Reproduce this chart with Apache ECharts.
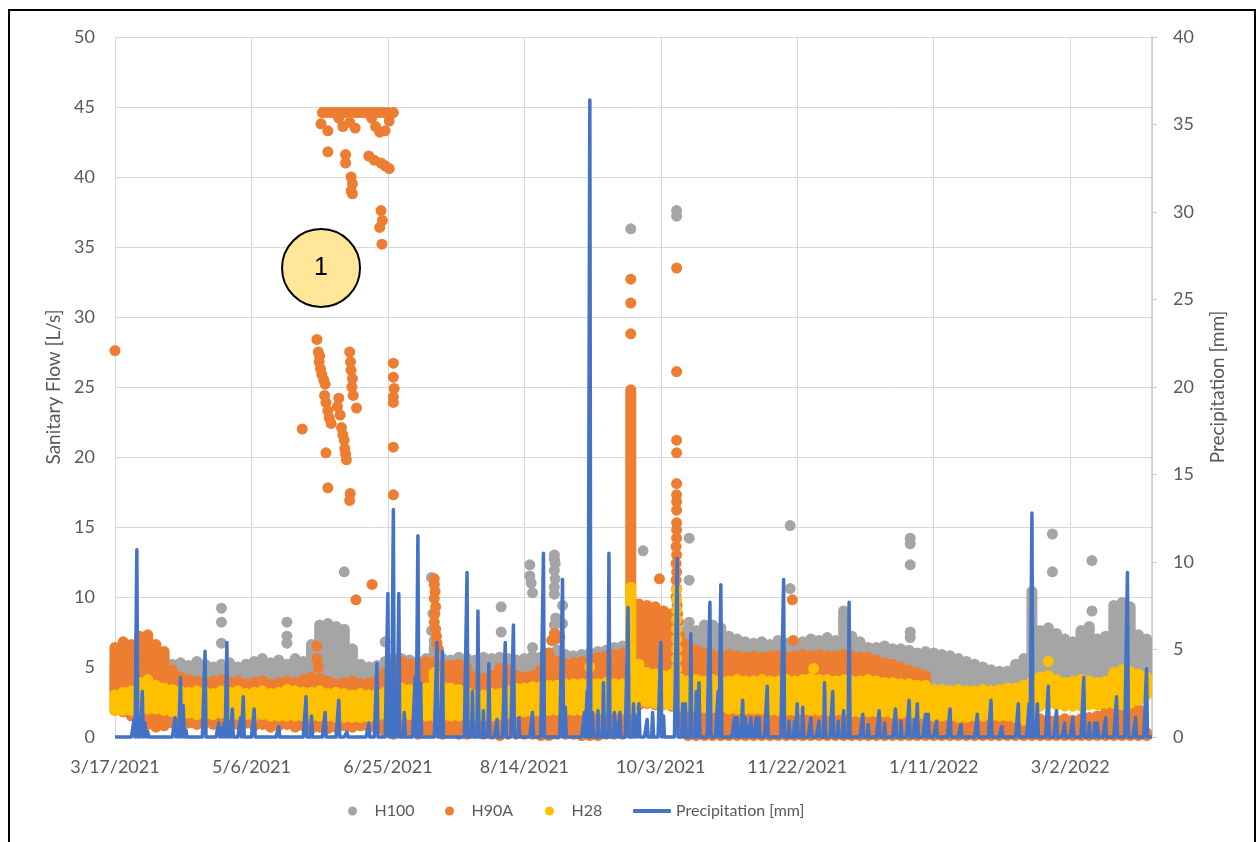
<!DOCTYPE html>
<html>
<head>
<meta charset="utf-8">
<title>Sanitary Flow and Precipitation</title>
<script src="https://cdn.jsdelivr.net/npm/echarts@6/dist/echarts.min.js"></script>
<style>
  html, body { margin: 0; padding: 0; background: #ffffff; }
  #chart { width: 1258px; height: 842px; }
</style>
</head>
<body>
<div id="chart"></div>
<script>
// ---- Data -----------------------------------------------------------------
// x values are days counted from 3/17/2021.
const xTickLabels = ['3/17/2021', '5/6/2021', '6/25/2021', '8/14/2021',
                     '10/3/2021', '11/22/2021', '1/11/2022', '3/2/2022'];
const TICK_DAYS = 50;

// Dense hourly readings summarised every 3 days as the [low, high] spread of the dots.
const BAND_STEP = 3;

const h100Hi = [
  5.0,5.2,5.4,5.5,5.5,5.4,5.3,5.2,5.3,5.1,
  5.4,5.2,5.0,5.2,5.3,5.0,5.2,5.4,5.6,5.3,
  5.5,5.2,5.6,5.4,6.6,8.0,8.1,7.9,7.7,6.3,
  5.2,5.0,5.1,5.4,5.6,5.6,5.5,5.4,5.6,6.5,
  5.6,5.5,5.7,5.6,5.5,5.7,5.6,5.7,5.6,5.5,
  5.6,5.8,5.7,6.0,6.2,5.9,5.8,5.9,6.0,6.1,
  6.2,6.4,6.5,6.5,6.6,6.6,6.5,6.6,6.8,7.5,
  7.8,7.6,8.0,8.0,7.8,7.2,7.0,6.8,6.7,6.8,
  6.6,6.9,6.7,6.6,6.8,7.0,6.9,7.1,6.9,9.0,
  7.2,6.8,6.4,6.4,6.5,6.3,6.3,6.2,6.0,6.1,
  6.0,5.9,5.8,5.6,5.4,5.2,5.0,4.8,4.7,4.7,
  5.2,5.6,10.4,7.6,7.8,7.4,7.0,6.8,7.6,7.9,
  7.0,7.2,9.4,9.6,9.3,7.3,7.0
];
const h100Lo = [
  3.4,3.4,3.5,3.5,3.5,3.5,3.5,3.5,3.5,3.5,
  3.5,3.5,3.5,3.5,3.5,3.5,3.5,3.5,3.5,3.5,
  3.5,3.5,3.5,3.5,3.8,3.9,3.9,3.9,3.9,3.8,
  3.5,3.5,3.5,3.5,3.5,3.5,3.5,3.5,3.5,3.5,
  3.5,3.5,3.5,3.5,3.5,3.5,3.5,3.5,3.5,3.5,
  3.5,3.5,3.5,3.5,3.5,3.5,3.5,3.5,3.5,3.5,
  3.6,3.6,3.6,3.6,3.6,3.6,3.6,3.6,3.6,3.6,
  3.6,3.6,3.6,3.6,3.6,3.6,3.6,3.6,3.6,3.6,
  3.6,3.6,3.6,3.6,3.6,3.6,3.6,3.6,3.6,3.6,
  3.6,3.6,3.6,3.6,3.6,3.6,3.6,3.6,3.6,3.6,
  3.7,3.7,3.7,3.7,3.7,3.7,3.7,3.7,3.7,3.7,
  3.8,3.8,3.8,4.0,4.1,4.1,4.0,4.0,4.1,4.1,
  4.0,4.1,4.3,4.4,4.4,4.3,4.2
];
const h90aHi = [
  6.4,6.8,6.6,7.2,7.3,6.6,6.1,4.8,4.3,4.1,
  4.0,3.9,4.0,4.1,3.9,4.0,3.8,3.9,4.0,3.8,
  3.9,4.0,3.9,4.1,4.3,4.2,4.0,3.8,3.9,4.0,
  3.8,3.9,4.0,4.6,5.3,5.4,5.2,5.3,5.4,5.4,
  5.2,5.1,5.2,4.9,4.3,4.2,4.4,4.9,4.8,4.4,
  4.3,4.4,4.8,6.0,5.4,5.2,5.3,5.4,5.6,5.7,
  5.8,5.9,6.0,24.8,9.5,9.4,9.3,9.0,8.8,7.2,
  6.6,6.2,6.0,5.9,5.8,5.9,5.8,5.7,5.8,5.7,
  5.8,5.8,5.7,5.8,5.9,5.8,5.9,5.8,5.8,5.9,
  5.8,5.7,5.7,5.5,5.3,5.2,5.0,4.8,4.6,4.4,
  3.0,1.4,1.2,1.1,1.1,1.0,1.0,1.0,1.0,1.1,
  1.1,1.2,1.2,1.3,1.2,1.2,1.3,1.2,1.3,1.4,
  1.5,1.8,2.4,2.6,2.5,2.0,0.3
];
const h90aLo = [
  1.9,1.8,1.5,1.2,0.9,0.7,0.8,1.0,1.1,1.0,
  0.9,1.0,0.9,1.0,0.8,0.9,1.0,0.8,0.9,0.7,
  0.8,0.9,0.7,0.8,0.6,0.7,0.6,0.7,0.8,0.7,
  0.8,0.7,0.6,0.4,0.2,0.3,0.3,0.2,0.3,0.3,
  0.2,0.3,0.2,0.2,0.3,0.2,0.2,0.1,0.2,0.2,
  0.2,0.2,0.1,0.1,0.2,0.2,0.2,0.1,0.1,0.1,
  0.2,0.2,0.2,0.3,2.3,2.4,2.3,2.3,2.2,0.8,
  0.1,0.1,0.1,0.1,0.1,0.1,0.1,0.1,0.1,0.1,
  0.1,0.1,0.1,0.1,0.1,0.1,0.1,0.1,0.1,0.1,
  0.1,0.1,0.1,0.1,0.1,0.1,0.1,0.1,0.1,0.1,
  0.1,0.1,0.1,0.1,0.1,0.1,0.1,0.1,0.1,0.1,
  0.1,0.1,0.1,0.1,0.1,0.1,0.1,0.1,0.1,0.1,
  0.1,0.1,0.1,0.1,0.1,0.1,0.1
];
const h28Hi = [
  3.0,3.2,3.3,3.9,4.1,3.7,3.5,3.4,3.3,3.2,
  3.3,3.2,3.1,3.3,3.2,3.3,3.1,3.2,3.3,3.1,
  3.2,3.4,3.3,3.2,3.2,3.3,3.1,3.2,3.1,3.0,
  3.1,3.0,3.1,3.2,3.4,3.5,3.4,3.3,3.5,4.6,
  3.6,3.5,3.4,3.2,3.0,3.0,3.1,3.1,3.3,3.5,
  3.5,3.6,3.6,3.7,3.7,3.8,3.8,3.8,3.9,3.8,
  3.9,3.8,3.8,10.7,5.2,4.6,4.5,4.4,4.5,4.2,
  4.0,4.1,4.0,4.1,4.0,4.0,4.1,4.0,4.0,4.1,
  4.0,4.0,4.1,4.0,4.1,4.2,4.1,4.1,4.0,4.1,
  4.0,4.0,4.1,4.0,3.9,3.9,3.8,3.8,3.7,3.7,
  3.4,3.4,3.3,3.4,3.3,3.3,3.4,3.3,3.4,3.5,
  3.5,3.7,4.0,4.3,4.4,4.1,3.9,4.0,4.1,4.0,
  3.9,4.0,4.6,4.8,4.7,4.5,4.3
];
const h28Lo = [
  1.9,1.9,1.9,2.0,2.0,2.0,1.9,1.8,1.7,1.7,
  1.6,1.6,1.6,1.7,1.6,1.6,1.6,1.5,1.6,1.5,
  1.5,1.5,1.5,1.5,1.5,1.5,1.5,1.4,1.4,1.4,
  1.4,1.4,1.5,1.6,1.6,1.6,1.6,1.5,1.5,1.5,
  1.5,1.5,1.5,1.5,1.5,1.5,1.5,1.6,1.7,1.8,
  1.8,1.8,1.8,1.9,1.9,1.9,1.9,1.9,2.0,2.0,
  2.0,2.0,2.0,2.0,2.5,2.5,2.4,2.3,2.3,2.2,
  2.2,2.1,2.1,2.1,2.1,2.0,2.0,2.0,2.0,2.0,
  1.9,1.9,1.9,1.9,1.9,1.9,1.9,1.9,1.9,1.9,
  1.8,1.8,1.8,1.8,1.8,1.7,1.7,1.7,1.6,1.6,
  1.5,1.5,1.5,1.4,1.4,1.5,1.5,1.5,1.5,1.5,
  1.4,1.2,1.2,2.2,2.4,2.3,2.2,2.2,2.2,2.3,
  2.3,2.4,2.4,2.3,2.4,2.6,3.0
];

// Isolated readings away from the main bands: [day, L/s]
const h100Spots = [
  [39,9.2],[39,8.2],[39,6.7],[63,8.2],[63,7.2],[63,6.7],[84,11.8],[99,6.8],
  [116,11.4],[116.5,8.8],[116,7.6],[117,6.9],
  [141.5,9.3],[141.5,7.5],
  [152,12.3],[152,11.5],[152.5,11.0],[153,10.3],[153,6.4],
  [161,13.0],[161,12.7],[161.3,12.4],[161,11.9],[161.3,11.3],[161,10.7],[161,10.2],
  [161.5,8.5],[161,8.0],[161.3,7.4],[161,6.9],
  [164,9.4],[164,8.1],
  [189,36.3],[193.5,13.3],[205.8,37.6],[205.8,37.2],
  [210.4,14.2],[210.4,11.2],[210.4,8.2],
  [247.4,15.1],[247.4,10.6],
  [291.4,14.2],[291.4,13.8],[291.4,12.3],[291.4,7.5],[291.4,7.1],
  [343.5,14.5],[343.5,11.8],[358,12.6],[358,9.0]
];
const h90aSpots = [
  [0,27.6],[68.6,22.0],
  [74,6.5],[74,5.6],[74.5,5.0],
  [74,28.4],[74.5,27.5],[75,27.2],[74.8,26.8],[75.3,26.3],[75.8,25.9],[76.5,25.5],[77,25.2],
  [76.8,24.4],[77.3,23.9],[78,23.3],[78.5,22.8],[79.2,22.4],[77.3,20.3],[78,17.8],
  [81.5,23.6],[82,24.2],[82.5,23.0],[83,22.1],[83.5,21.6],[84,21.2],[84.2,20.6],[84.5,20.2],[84.8,19.8],
  [86,27.5],[86.3,26.8],[86.5,26.2],[87,25.6],[86.8,25.0],[87.3,24.4],[88.5,23.5],[86.2,17.4],[86,16.9],
  [102,26.7],[102,25.7],[102.3,24.9],[102,24.3],[102,23.9],[102,20.7],[102,17.3],
  [76,44.6],[77.5,44.6],[79,44.6],[80.5,44.6],[82,44.6],[83.5,44.6],[85,44.6],[86.5,44.6],[88,44.6],
  [89.5,44.6],[91,44.6],[92.5,44.6],[94,44.6],[95.5,44.6],[97,44.6],[98.5,44.6],[100,44.6],[102,44.6],
  [75.5,43.8],[78,43.3],[82,44.2],[83.5,43.6],[86,43.9],[88,43.5],[94,44.2],[95.5,43.6],[97,43.2],
  [99,43.3],[100.5,44.0],
  [78,41.8],[84.5,41.6],[84.5,41.0],[93,41.5],[95,41.2],[97.5,41.0],[99,40.8],[100.5,40.6],
  [86.5,40.0],[87,39.5],[86.5,39.0],[87,38.8],
  [97.5,37.6],[98,36.9],[97,36.4],[97.8,35.2],
  [88.3,9.8],[94.2,10.9],
  [117,11.3],[117,10.9],[117.3,10.4],[117,9.9],[117.5,9.3],[117.2,8.8],[117,8.2],[117.5,7.7],
  [117.8,7.2],[118,6.7],[118.5,6.3],
  [160,6.9],[161,7.4],[163,7.1],
  [189,32.7],[189,31.0],[189,28.8],
  [199.5,11.3],
  [205.8,33.5],[205.8,26.1],[205.8,21.2],[205.8,20.3],[205.8,18.1],[205.8,17.3],[205.8,16.8],
  [205.8,16.2],[205.8,15.3],[205.8,14.8],[205.8,14.2],[205.6,13.6],[205.8,13.0],[205.6,12.4],
  [205.8,11.8],[205.6,11.2],[205.8,10.6],[205.6,10.0],[206,9.4],[206.2,8.8],[206.5,8.2],
  [248.2,9.8],[248.5,6.9]
];
const h28Spots = [
  [174,5.0],[256,4.9],[342,5.4],
  [205.8,10.5],[205.8,9.8],[205.8,9.1],[205.8,8.4],[205.8,7.7],[205.8,7.0],[205.8,6.3],
  [205.8,5.6],[205.8,4.9]
];

// Daily precipitation [mm], one value per day from 3/17/2021.
const precipitation = [
  0,0,0,0,0,0,0,1.0,10.7,1.2,2.6,0.8,0.3,0,0,0,0,0,0,0,
  0,0,1.1,0.5,3.4,1.8,0.4,0,0,0,0,0,0,4.9,0,0,0,0,0.8,0.5,
  0.8,5.4,0.6,1.6,0,0,1.1,2.3,0,0,0,1.6,0,0,0,0,0,0,0,0,
  0.6,0,0,0,0,0,0,0,0,0,2.3,0,1.2,0,0,0,0,1.4,0,0,
  0,0,2.1,0,0,0.3,0,0,0,0,0,0,0,0.8,0,0,4.2,0,0,0,
  8.2,1.0,13.0,1.5,8.2,0,1.4,0,0,0,3.4,11.5,3.1,0,0,0,0,0,5.4,1.0,
  4.9,0,0,0,0,0,0,0,0,9.4,0,2.6,0,7.2,0,1.5,0,4.2,0,0,
  1.0,0,0,5.4,0,0,6.4,0,1.1,0,0,0,0,1.4,0,0,0,10.5,0,0,
  0,0,0,0,9.0,1.7,0,0,0,0,0,0,1.4,2.6,36.4,1.4,0,1.5,0,3.1,
  0,10.5,0,1.4,0.8,1.4,0,0,7.4,0,1.9,1.2,1.9,0,0,1.0,0,1.4,0,0,
  5.4,1.2,0,0,0,0,10.2,0,1.9,1.9,0,5.9,0,2.6,3.1,0,0,0,7.7,0,
  0,2.6,8.7,0,0,0,0,1.1,1.1,0.5,2.1,1.1,0.6,1.1,0.5,1.1,1.1,0,0,2.9,
  0,0,0,0,0,9.0,0,0.9,0,0.9,1.9,0,1.7,0,0,1.1,0,0,0.9,0,
  3.1,0,0,2.6,0,0.9,0,1.5,0,7.7,0,0,0,0,1.3,0,0.7,0,0,0,
  1.5,0,0.8,0,0,0,1.6,0,0.9,0,0,2.1,0,1.0,1.9,0,0,1.3,1.3,0,
  0,0.9,0,0,0,0,1.6,0,0,0,0.7,0,0,0,0,0,1.3,0,0,0,
  0,2.1,0,0,0,0.6,0,0,0,0,0,1.9,0,0,0,1.9,12.8,0.8,1.9,0,
  0,0,2.9,0,0,1.5,0,0,0.8,0,0,1.1,0,0,0,3.4,0,0.8,0,0.8,
  0.8,0,0,1.1,0,0,0,2.3,0,0,0,9.4,0,0,1.1,0,0,0,3.9,0,0
];
// Rain arrives in short bursts: the gauge reads zero a few hours either side of each total.
const RAIN_SPAN = 0.35;

// ---- Styling ----------------------------------------------------------------
const FONT = 'Lato, "Open Sans", "Liberation Sans", sans-serif';
const TEXT = '#595959';
const GRID_LINE = '#D9D9D9';
const DOT = 11;
const COLORS = { h100: '#A5A5A5', h90a: '#ED7D31', h28: '#FFC000', rain: '#4472C4' };

function bandData(lo, hi) {
  return lo.map((v, i) => [i * BAND_STEP, v, hi[i]]);
}

function rainBursts(daily) {
  const pts = [];
  daily.forEach((v, i) => {
    if (v > 0) {
      pts.push([i - RAIN_SPAN, 0], [i, v], [i + RAIN_SPAN, 0]);
    } else {
      pts.push([i, 0]);
    }
  });
  return pts;
}

// A vertical run of overlapping dots: a capsule one dot wide from low to high.
function dotRun(params, api) {
  const day = api.value(0);
  const top = api.coord([day, api.value(2)]);
  const bottom = api.coord([day, api.value(1)]);
  return {
    type: 'rect',
    shape: { x: top[0] - DOT / 2, y: top[1] - DOT / 2, width: DOT,
             height: bottom[1] - top[1] + DOT, r: DOT / 2 },
    style: { fill: api.visual('color') }
  };
}

function bandSeries(name, color, lo, hi) {
  return {
    type: 'custom', name: name, renderItem: dotRun,
    data: bandData(lo, hi), encode: { x: 0, y: [1, 2] },
    itemStyle: { color: color }, silent: true
  };
}
function spotSeries(name, color, spots, extra) {
  return Object.assign({
    type: 'scatter', name: name, data: spots, symbolSize: DOT,
    itemStyle: { color: color, opacity: 1 }, silent: true
  }, extra || {});
}

function legendFor(name, left, color, icon, w, h) {
  return {
    data: [{ name: name, icon: icon, itemStyle: { color: color } }],
    left: left, top: 803, padding: 0,
    itemWidth: w, itemHeight: h, selectedMode: false,
    textStyle: { color: TEXT, fontSize: 16, fontFamily: FONT }
  };
}

const chart = echarts.init(document.getElementById('chart'));
chart.setOption({
  animation: false,
  backgroundColor: '#ffffff',
  textStyle: { fontFamily: FONT },
  grid: { left: 115, right: 106, top: 37, bottom: 105, containLabel: false },
  xAxis: {
    type: 'value', min: 0, max: 380, interval: TICK_DAYS,
    axisLine: { show: true, lineStyle: { color: GRID_LINE, width: 1 } },
    axisTick: { show: false },
    splitLine: { show: true, lineStyle: { color: GRID_LINE, width: 1 } },
    axisLabel: {
      color: TEXT, fontSize: 18, fontFamily: FONT, margin: 21,
      formatter: v => xTickLabels[v / TICK_DAYS] || ''
    }
  },
  yAxis: [
    {
      type: 'value', min: 0, max: 50, interval: 5,
      name: 'Sanitary Flow [L/s]', nameLocation: 'middle', nameGap: 52, nameRotate: 90,
      nameTextStyle: { color: TEXT, fontSize: 19, fontFamily: FONT },
      axisLine: { show: false }, axisTick: { show: false },
      splitLine: { show: true, lineStyle: { color: GRID_LINE, width: 1 } },
      axisLabel: { color: TEXT, fontSize: 18, fontFamily: FONT, margin: 20 }
    },
    {
      type: 'value', min: 0, max: 40, interval: 5, position: 'right',
      name: 'Precipitation [mm]', nameLocation: 'middle', nameGap: 56, nameRotate: 90,
      nameTextStyle: { color: TEXT, fontSize: 19, fontFamily: FONT },
      axisLine: { show: true, lineStyle: { color: '#C8C8C8', width: 1.5 } },
      axisTick: { show: true, inside: false, length: 5, lineStyle: { color: '#C8C8C8' } },
      splitLine: { show: false },
      axisLabel: { color: TEXT, fontSize: 18, fontFamily: FONT, margin: 21 }
    }
  ],
  legend: [
    legendFor('H100', 348, COLORS.h100, 'circle', 34, 9),
    legendFor('H90A', 445, COLORS.h90a, 'circle', 34, 9),
    legendFor('H28', 545, COLORS.h28, 'circle', 34, 9),
    legendFor('Precipitation [mm]', 633, COLORS.rain, 'roundRect', 38, 4)
  ],
  graphic: [{
    type: 'rect', silent: true, z: 100,
    shape: { x: 9, y: 10, width: 1246, height: 850 },
    style: { fill: 'none', stroke: '#000000', lineWidth: 2 }
  }],
  series: [
    bandSeries('H100', COLORS.h100, h100Lo, h100Hi),
    spotSeries('H100', COLORS.h100, h100Spots),
    bandSeries('H90A', COLORS.h90a, h90aLo, h90aHi),
    spotSeries('H90A', COLORS.h90a, h90aSpots, {
      markPoint: {
        symbol: 'circle', symbolSize: 78, silent: true,
        data: [{ coord: [75.5, 33.5], value: 1 }],
        itemStyle: { color: '#FFE699', borderColor: '#000000', borderWidth: 2 },
        label: { show: true, formatter: '1', color: '#000000', fontSize: 25,
                 fontFamily: '"Liberation Sans", Arial, sans-serif' }
      }
    }),
    bandSeries('H28', COLORS.h28, h28Lo, h28Hi),
    spotSeries('H28', COLORS.h28, h28Spots),
    {
      type: 'line', name: 'Precipitation [mm]', yAxisIndex: 1,
      data: rainBursts(precipitation), clip: false,
      showSymbol: false, symbol: 'none', silent: true,
      lineStyle: { color: COLORS.rain, width: 3.5, join: 'round' },
      itemStyle: { color: COLORS.rain }, z: 3
    }
  ]
});
</script>
</body>
</html>
